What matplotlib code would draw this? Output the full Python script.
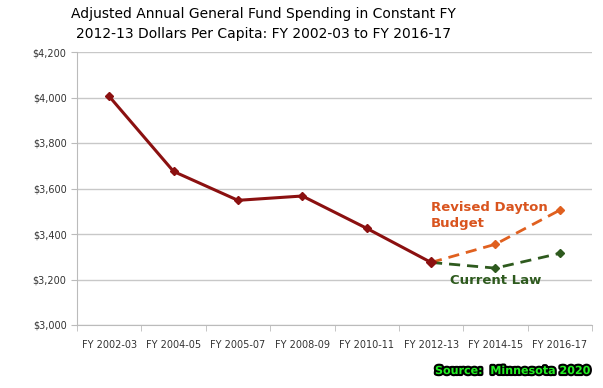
import numpy as np
import matplotlib.pyplot as plt
import matplotlib.patheffects as pe

years = ["FY 2002-03", "FY 2004-05", "FY 2005-07", "FY 2008-09",
         "FY 2010-11", "FY 2012-13", "FY 2014-15", "FY 2016-17"]
actual = [4005, 3675, 3548, 3567, 3425, 3275]
dayton = [3275, 3355, 3505]
current_law = [3275, 3250, 3315]

fig = plt.figure(figsize=(6.03, 3.88), dpi=100)
ax = fig.add_axes([77/603, 1 - 325/388, (592-77)/603, (325-52)/388])

x = np.arange(len(years))
ax.plot(x[:6], actual, color="#8B1010", lw=2.2, marker="D", ms=4.5, zorder=3)
ax.plot(x[5:], dayton, color="#E0601F", lw=2, ls=(0, (4, 2.5)), marker="D", ms=4, zorder=2)
ax.plot(x[5:], current_law, color="#2E5A1E", lw=2, ls=(0, (4, 2.5)), marker="D", ms=4, zorder=2)
ax.plot(x[5], actual[5], color="#8B1010", marker="D", ms=5, zorder=4)

ax.set_xlim(-0.5, len(years) - 0.5)
ax.set_ylim(3000, 4200)
ax.set_yticks(np.arange(3000, 4201, 200))
ax.set_yticklabels(["${:,}".format(v) for v in range(3000, 4201, 200)], fontsize=7, color="#333333")
ax.set_xticks(x)
ax.set_xticklabels(years, fontsize=7, color="#333333")
ax.tick_params(axis="x", which="major", length=0, pad=11)
ax.set_xticks(np.arange(-0.5, len(years)), minor=True)
ax.tick_params(axis="x", which="minor", length=4, color="#bbbbbb")
ax.tick_params(axis="y", length=4, color="#bbbbbb")

ax.grid(axis="y", color="#c8c8c8", lw=1)
ax.set_axisbelow(True)
for s in ["top", "right"]:
    ax.spines[s].set_visible(False)
for s in ["left", "bottom"]:
    ax.spines[s].set_color("#bbbbbb")

ax.text(5.0, 3480, "Revised Dayton\nBudget", color="#D9541E", fontsize=9.5,
        fontweight="bold", va="center", ha="left", linespacing=1.3)
ax.text(5.3, 3195, "Current Law", color="#2E5A1E", fontsize=9.5,
        fontweight="bold", va="center", ha="left")

fig.text(263/603, 1 - 7/388, "Adjusted Annual General Fund Spending in Constant FY\n"
         "2012-13 Dollars Per Capita: FY 2002-03 to FY 2016-17",
         ha="center", va="top", fontsize=10, linespacing=1.55)

fig.text(590/603, 1 - 371/388, "Source:  Minnesota 2020", color="#22EE22",
         fontsize=8, fontweight="bold", ha="right", va="center",
         path_effects=[pe.withStroke(linewidth=3, foreground="black")])

fig.savefig("out.png", dpi=100)
